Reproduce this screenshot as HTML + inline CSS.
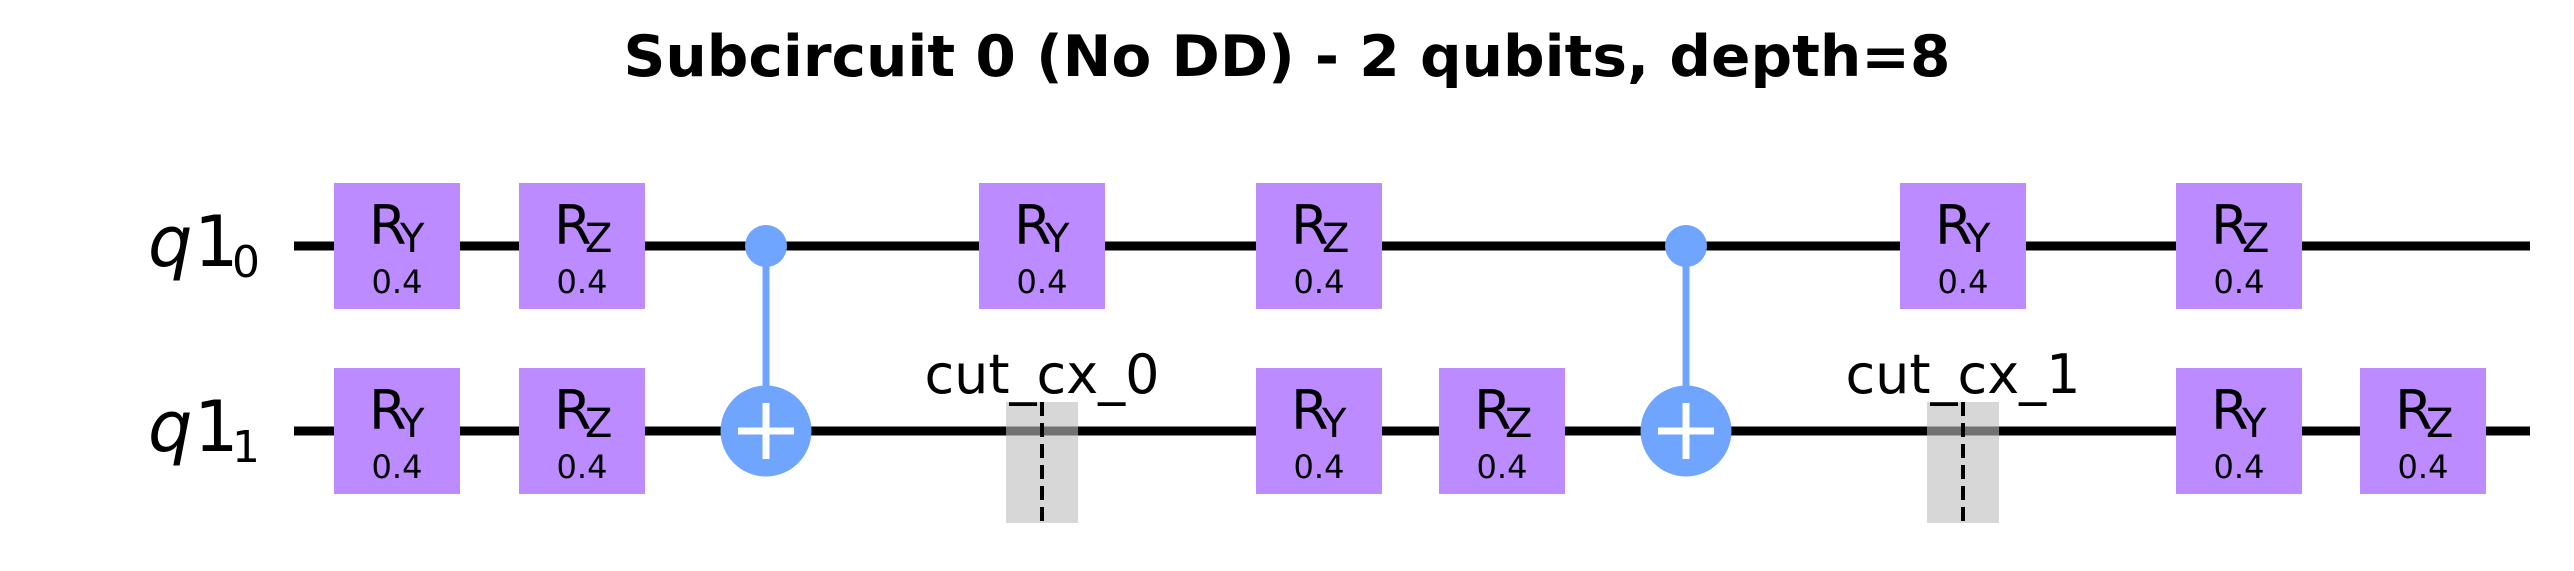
<!DOCTYPE html>
<html><head><meta charset="utf-8"><style>
html,body{margin:0;padding:0;background:#fff;}
svg{display:block;}
text{font-family:"DejaVu Sans","Liberation Sans",sans-serif;}
</style></head><body>
<svg id="c" width="2574" height="571" viewBox="0 0 2574 571" xmlns="http://www.w3.org/2000/svg">
<text x="1287" y="76" text-anchor="middle" font-size="57" font-weight="bold" textLength="1327" lengthAdjust="spacingAndGlyphs">Subcircuit 0 (No DD) - 2 qubits, depth=8</text>
<g><text x="148" y="266" font-size="70" font-style="italic">q</text><text x="194" y="266" font-size="70">1</text><text x="232" y="277" font-size="44">0</text></g>
<g><text x="148" y="451" font-size="70" font-style="italic">q</text><text x="194" y="451" font-size="70">1</text><text x="232" y="462" font-size="44">1</text></g>
<line x1="294" y1="246" x2="2530" y2="246" stroke="#000" stroke-width="9"/>
<line x1="294" y1="431" x2="2530" y2="431" stroke="#000" stroke-width="9"/>
<g id="marks"></g>
</svg>
<script>
const wireY = [246, 431];
const gateQubit = [0,0,0,0,0,0,1,1,1,1,1,1];
const gateX = [334,519,979,1256,1900,2176,334,519,1256,1439,2176,2360];
const gateAxis = ['Y','Z','Y','Z','Y','Z','Y','Z','Y','Z','Y','Z'];
const gateParam = ['0.4','0.4','0.4','0.4','0.4','0.4','0.4','0.4','0.4','0.4','0.4','0.4'];
const cxX = [766, 1686];
const cutX = [1042, 1963];
const cutLabels = ['cut_cx_0', 'cut_cx_1'];

const NS = 'http://www.w3.org/2000/svg';
const g = document.getElementById('marks');
function mk(tag, attrs, parent){ const e=document.createElementNS(NS,tag); for(const k in attrs) e.setAttribute(k,attrs[k]); (parent||g).appendChild(e); return e; }

cutX.forEach((x,i)=>{
  const grp = mk('g',{});
  
  
  mk('rect',{x:x-36,y:402,width:72,height:121,fill:'#bdbdbd','fill-opacity':0.6},grp);
  mk('line',{x1:x,y1:402,x2:x,y2:523,stroke:'#000','stroke-width':4,'stroke-dasharray':'14,7'},grp);
  const t = mk('text',{x:x,y:393,'font-size':54,'text-anchor':'middle'},grp);
  t.textContent = cutLabels[i];
});

gateX.forEach((x,i)=>{
  const y = wireY[gateQubit[i]];
  const grp = mk('g',{});
  
  
  mk('rect',{x:x,y:y-63,width:126,height:126,fill:'#BB8BFF'},grp);
  const t = mk('text',{x:x+35,y:y-2,'font-size':54},grp);
  t.textContent='R';
  const s = mk('text',{x:x+66,y:y+6,'font-size':40},grp);
  s.textContent=gateAxis[i];
  const p = mk('text',{x:x+63,y:y+47,'font-size':32,'text-anchor':'middle'},grp);
  p.textContent=gateParam[i];
});

cxX.forEach(x=>{
  const grp = mk('g',{});
  
  
  mk('line',{x1:x,y1:wireY[0],x2:x,y2:wireY[1],stroke:'#6FA4FF','stroke-width':7},grp);
  mk('circle',{cx:x,cy:wireY[0],r:21,fill:'#6FA4FF'},grp);
  mk('circle',{cx:x,cy:wireY[1],r:45.5,fill:'#6FA4FF'},grp);
  mk('line',{x1:x-28,y1:wireY[1],x2:x+28,y2:wireY[1],stroke:'#fff','stroke-width':7},grp);
  mk('line',{x1:x,y1:wireY[1]-28,x2:x,y2:wireY[1]+28,stroke:'#fff','stroke-width':7},grp);
});
</script>
</body></html>
